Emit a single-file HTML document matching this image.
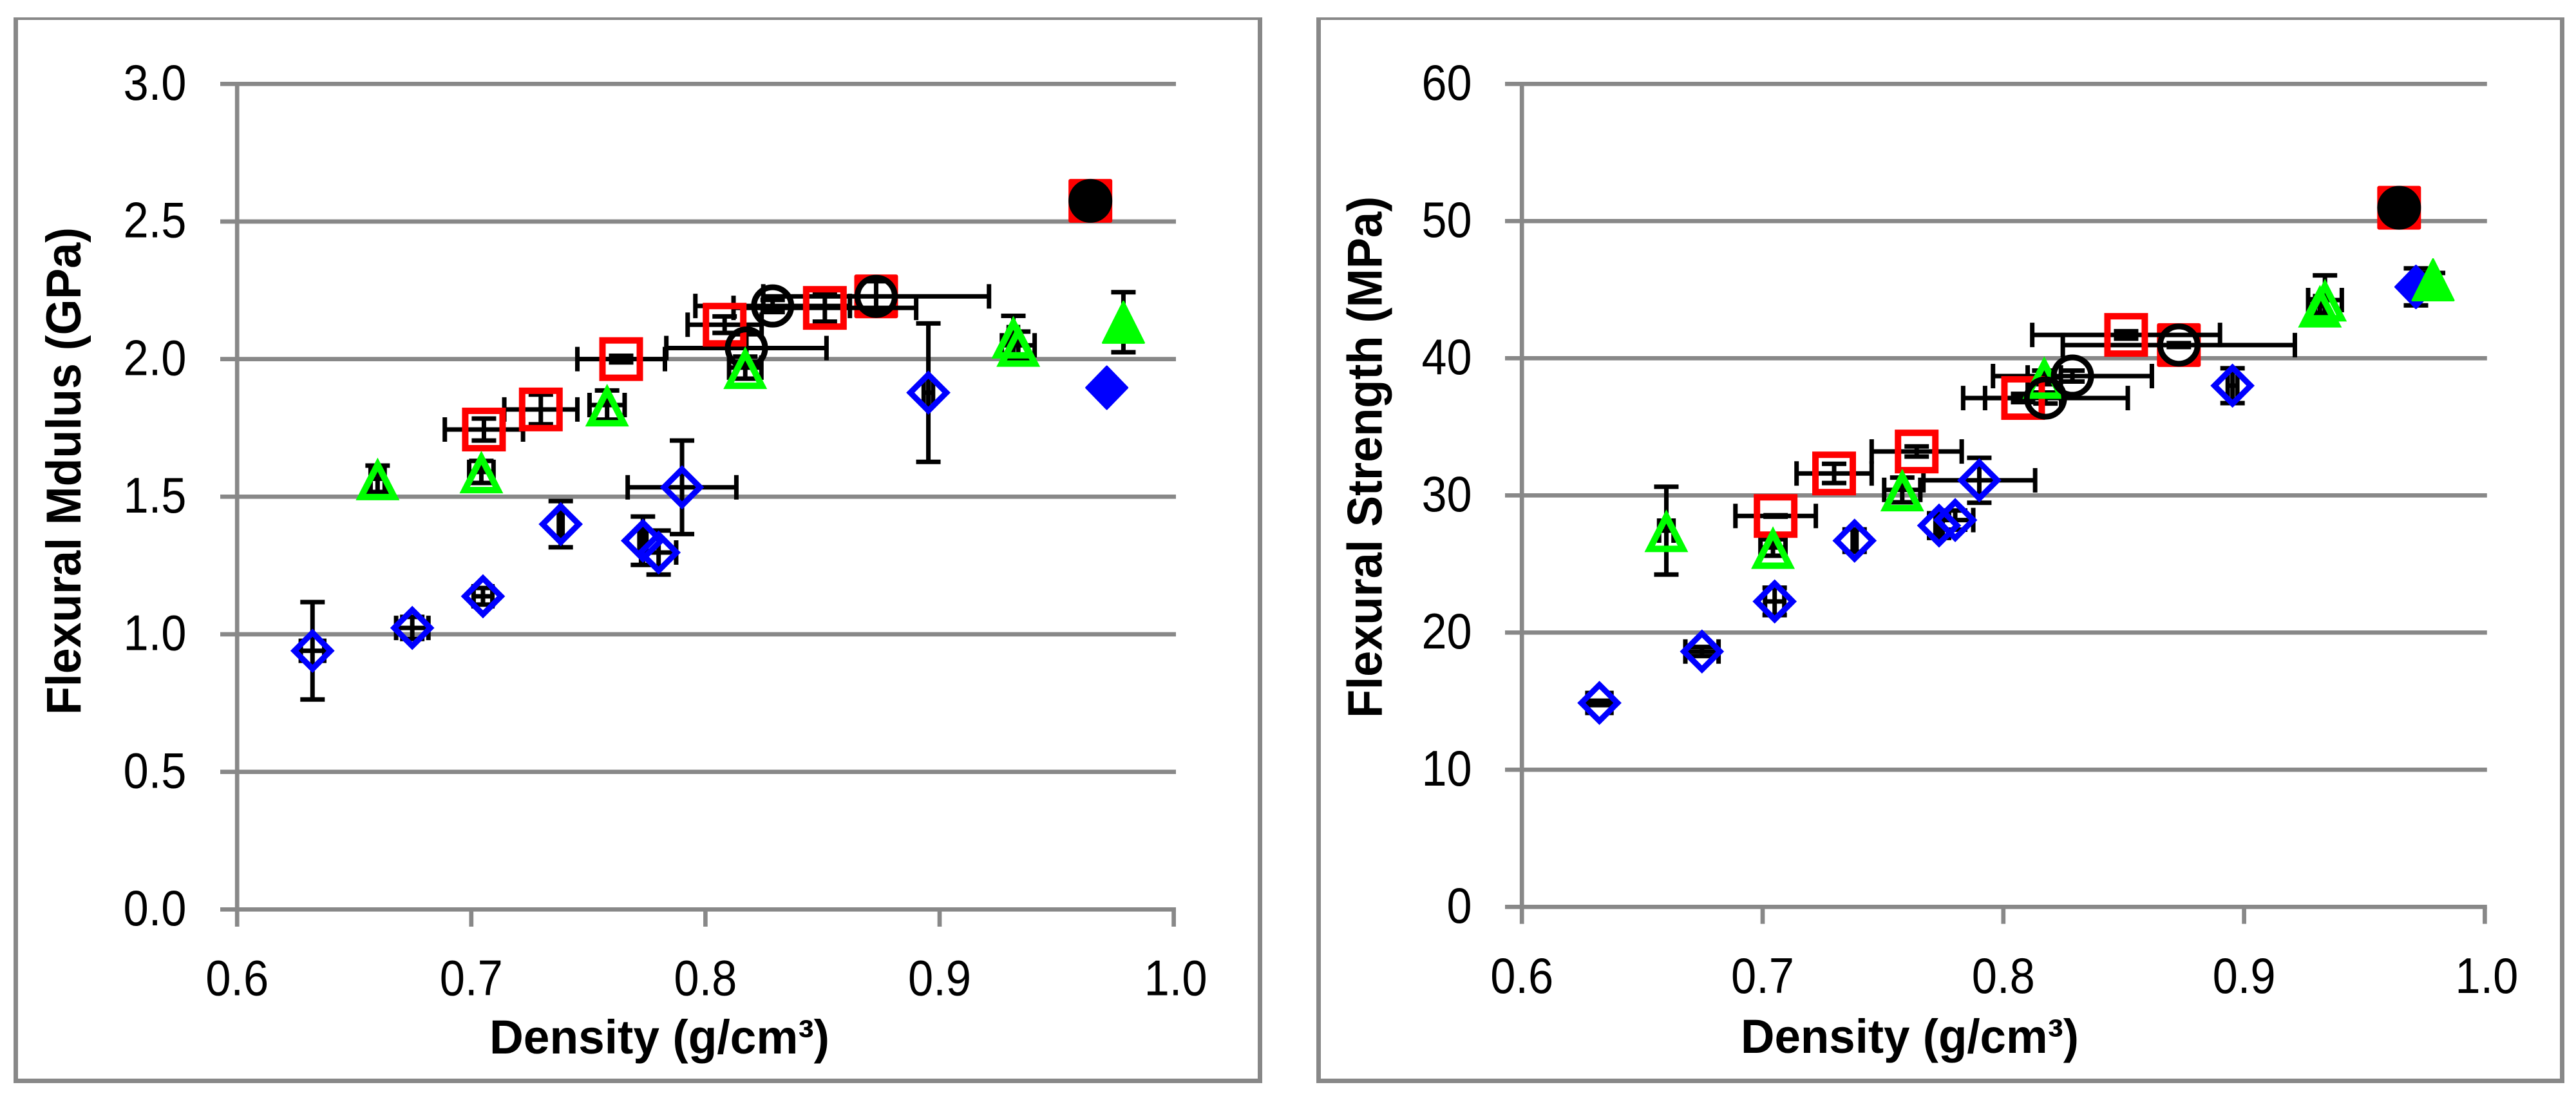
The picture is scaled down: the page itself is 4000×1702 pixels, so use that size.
<!DOCTYPE html>
<html lang="en">
<head>
<meta charset="utf-8">
<title>Flexural modulus and strength versus density</title>
<style>
  html, body { margin: 0; padding: 0; background: #fff; }
  svg { display: block; }
  text { font-family: "Liberation Sans", sans-serif; fill: #000; }
</style>
</head>
<body>
<svg id="figure" xmlns="http://www.w3.org/2000/svg" width="4000" height="1702" viewBox="0 0 4000 1702">
  <rect x="0" y="0" width="4000" height="1702" fill="#fff"/>
  <g id="modulus-panel">
    <path fill="#888888" fill-rule="evenodd" d="M21 27H1960V1682H21Z M28 31V1675H1953V31Z"/>
    <text transform="translate(125 1110) rotate(-90)" font-size="76" font-weight="700" textLength="757" lengthAdjust="spacingAndGlyphs">Flexural Mdulus (GPa)</text>
    <text x="760" y="1636" font-size="74" font-weight="700" textLength="528" lengthAdjust="spacingAndGlyphs">Density (g/cm³)</text>
  </g>
  <g id="strength-panel">
    <path fill="#888888" fill-rule="evenodd" d="M2044 27H3982V1682H2044Z M2051 31V1675H3975V31Z"/>
    <text transform="translate(2145.5 1115) rotate(-90)" font-size="76" font-weight="700" textLength="810" lengthAdjust="spacingAndGlyphs">Flexural Strength (MPa)</text>
    <text x="2703" y="1635" font-size="74" font-weight="700" textLength="525" lengthAdjust="spacingAndGlyphs">Density (g/cm³)</text>
  </g>
</svg>
<script>
// Axis ticks
const densityTicks = [0.6, 0.7, 0.8, 0.9, 1.0];
const densityTickLabels = ['0.6', '0.7', '0.8', '0.9', '1.0'];
const modulusTicks = [0, 0.5, 1, 1.5, 2, 2.5, 3];
const modulusTickLabels = ['0.0', '0.5', '1.0', '1.5', '2.0', '2.5', '3.0'];
const strengthTicks = [0, 10, 20, 30, 40, 50, 60];
const strengthTickLabels = ['0', '10', '20', '30', '40', '50', '60'];

// Open diamonds
const densityDiamond = [0.6322, 0.6748, 0.705, 0.7382, 0.7733, 0.78, 0.79, 0.8952];
const densityErrDiamond = [0.005, 0.0069, 0.004, 0.0008, 0.0015, 0.0075, 0.0232, 0.002];
const modulusDiamond = [0.94, 1.023, 1.138, 1.40, 1.34, 1.297, 1.534, 1.878];
const modulusErrDiamond = [0.177, 0.04, 0.03, 0.084, 0.088, 0.08, 0.17, 0.2515];
const strengthDiamond = [14.87, 18.62, 22.27, 26.7, 27.8, 28.2, 31.1, 38.0];
const strengthErrDiamond = [0.16, 0.33, 1.0, 0.82, 0.9, 0.7, 1.64, 1.27];

// Solid diamond
const densitySolidDiamond = [0.9714];
const densityErrSolidDiamond = [0.0006];
const modulusSolidDiamond = [1.896];
const modulusErrSolidDiamond = [0.01];
const strengthSolidDiamond = [45.2];
const strengthErrSolidDiamond = [1.35];

// Open squares
const densitySquare = [0.7054, 0.7297, 0.764, 0.8082, 0.851];
const densityErrSquare = [0.0167, 0.0156, 0.0187, 0.0158, 0.039];
const modulusSquare = [1.744, 1.817, 2.0, 2.125, 2.186];
const modulusErrSquare = [0.04, 0.054, 0.012, 0.03, 0.05];
const strengthSquare = [28.5, 31.6, 33.2, 37.1, 41.7];
const strengthErrSquare = [0.05, 0.7, 0.37, 0.3, 0.27];

// Open circle on solid square
const densityCircleSquare = [0.8729];
const densityErrCircleSquare = [0.0482];
const modulusCircleSquare = [2.228];
const modulusErrCircleSquare = [0.055];
const strengthCircleSquare = [40.96];
const strengthErrCircleSquare = [0.14];

// Open circles
const densityCircle = [0.8287, 0.8175];
const densityErrCircle = [0.033, 0.0342];
const modulusCircle = [2.193, 2.04];
const modulusErrCircle = [0.022, 0.05];
const strengthCircle = [38.7, 37.1];
const strengthErrCircle = [0.4, 0.4];

// Solid circle on solid square
const densitySolidCircle = [0.9644];
const densityErrSolidCircle = [0];
const modulusSolidCircle = [2.575];
const modulusErrSolidCircle = [0];
const strengthSolidCircle = [50.97];
const strengthErrSolidCircle = [0];

// Open triangles
const densityTriangle = [0.66, 0.7043, 0.758, 0.817, 0.9315, 0.9336];
const densityErrTriangle = [0.003, 0.0052, 0.0075, 0.0069, 0.002, 0.007];
const modulusTriangle = [1.565, 1.59, 1.833, 1.969, 2.08, 2.05];
const modulusErrTriangle = [0.048, 0.04, 0.053, 0.04, 0.077, 0.05];
const strengthTriangle = [27.43, 26.2, 30.4, 38.6, 43.8, 44.24];
const strengthErrTriangle = [3.2, 0.6, 0.9, 0.5, 0.5, 1.8];

// Solid triangle
const densitySolidTriangle = [0.9785];
const densityErrSolidTriangle = [0.001];
const modulusSolidTriangle = [2.134];
const modulusErrSolidTriangle = [0.109];
const strengthSolidTriangle = [45.72];
const strengthErrSolidTriangle = [0.5];

const NS = 'http://www.w3.org/2000/svg';
const GRAY = '#888888';

function shape(parent, tag, props) {
  const el = document.createElementNS(NS, tag);
  for (const key in props) el.setAttribute(key, props[key]);
  parent.appendChild(el);
  return el;
}

function drawTick(parent, xa, ya, xb, yb, name) {
  const el = shape(parent, 'line', { x1: xa, y1: ya, x2: xb, y2: yb, stroke: GRAY, 'stroke-width': 6.7 });
  
  
}

function drawLabel(parent, x, y, label, anchor, name) {
  const el = shape(parent, 'text', { x: x, y: y, 'font-size': 78, 'text-anchor': anchor });
  const digits = label.replace('.', '').length;
  const dots = label.length - digits;
  el.setAttribute('textLength', digits * 39 + dots * 20);
  el.setAttribute('lengthAdjust', 'spacingAndGlyphs');
  el.textContent = label;
  
  
}

function drawError(parent, xa, ya, xb, yb, name) {
  const el = shape(parent, 'line', { x1: xa, y1: ya, x2: xb, y2: yb, stroke: '#000', 'stroke-width': 7 });
  
  
}

function drawErrorBars(parent, sx, sy, xs, xe, ys, ye) {
  xs.forEach(function (d, i) {
    const cx = sx(d), cy = sy(ys[i]);
    const left = sx(d - xe[i]), right = sx(d + xe[i]);
    const top = sy(ys[i] + ye[i]), bottom = sy(ys[i] - ye[i]);
    if (xe[i] > 0) {
      drawError(parent, left, cy, right, cy, 'x-error-bar');
      drawError(parent, left, cy - 19, left, cy + 19, 'x-error-cap');
      drawError(parent, right, cy - 19, right, cy + 19, 'x-error-cap');
    }
    if (ye[i] > 0) {
      drawError(parent, cx, top, cx, bottom, 'y-error-bar');
      drawError(parent, cx - 19, top, cx + 19, top, 'y-error-cap');
      drawError(parent, cx - 19, bottom, cx + 19, bottom, 'y-error-cap');
    }
  });
}

function markerElement(parent, kind, x, y) {
  if (kind === 'open-diamond') {
    return shape(parent, 'polygon', { points: [[x, y - 28], [x + 28, y], [x, y + 28], [x - 28, y]].join(' '), fill: 'none', stroke: '#0000ff', 'stroke-width': 9, 'stroke-miterlimit': 10 });
  }
  if (kind === 'solid-diamond') {
    return shape(parent, 'polygon', { points: [[x, y - 33], [x + 32, y], [x, y + 33], [x - 32, y]].join(' '), fill: '#0000ff', stroke: '#0000ff', 'stroke-width': 3, 'stroke-linejoin': 'round' });
  }
  if (kind === 'open-square') {
    return shape(parent, 'rect', { x: x - 29, y: y - 29, width: 58, height: 58, fill: 'none', stroke: '#ff0000', 'stroke-width': 10 });
  }
  if (kind === 'solid-square') {
    return shape(parent, 'rect', { x: x - 34, y: y - 34, width: 68, height: 68, rx: 3, fill: '#ff0000' });
  }
  if (kind === 'white-circle') {
    return shape(parent, 'circle', { cx: x, cy: y, r: 29, fill: '#fff', stroke: '#000', 'stroke-width': 9 });
  }
  if (kind === 'open-circle') {
    return shape(parent, 'circle', { cx: x, cy: y, r: 29, fill: 'none', stroke: '#000', 'stroke-width': 9 });
  }
  if (kind === 'solid-circle') {
    return shape(parent, 'circle', { cx: x, cy: y, r: 34, fill: '#000' });
  }
  if (kind === 'open-triangle') {
    return shape(parent, 'polygon', { points: [[x, y - 22], [x + 25.8, y + 28.3], [x - 25.8, y + 28.3]].join(' '), fill: 'none', stroke: '#00ff00', 'stroke-width': 10, 'stroke-miterlimit': 10 });
  }
  return shape(parent, 'polygon', { points: [[x, y - 32], [x + 32, y + 32], [x - 32, y + 32]].join(' '), fill: '#00ff00', stroke: '#00ff00', 'stroke-width': 3, 'stroke-linejoin': 'round' });
}

function drawMarkers(parent, sx, sy, xs, ys, kind) {
  xs.forEach(function (d, i) {
    const el = markerElement(parent, kind, sx(d), sy(ys[i]));
    
    
  });
}

function drawChart(cfg, yTicks, yLabels, groups) {
  const root = document.getElementById(cfg.panel);
  const sx = function (d) { return cfg.x0 + (d - 0.6) * cfg.xPerUnit; };
  const sy = function (v) { return cfg.y0 - v * cfg.yPerUnit; };
  const top = sy(yTicks[yTicks.length - 1]);
  const base = sy(0);

  yTicks.forEach(function (t, i) {
    drawTick(root, cfg.gridStart, sy(t), sx(1) + 3.4, sy(t), 'y-gridline');
    drawLabel(root, cfg.yLabelRight, sy(t) + 24.7, yLabels[i], 'end', 'y-tick-label');
  });
  drawTick(root, sx(0.6), top, sx(0.6), cfg.tickBottom, 'y-axis-line');
  densityTicks.forEach(function (t, i) {
    if (i > 0) drawTick(root, sx(t), base, sx(t), cfg.tickBottom, 'x-tick');
    drawLabel(root, sx(t) + (i === 4 ? 3 : 0), cfg.xLabelBase, densityTickLabels[i], 'middle', 'x-tick-label');
  });

  // Markers that sit underneath their error bars
  drawMarkers(root, sx, sy, groups.circleSquare[0], groups.circleSquare[2], 'solid-square');
  drawMarkers(root, sx, sy, groups.circleSquare[0], groups.circleSquare[2], 'white-circle');
  drawMarkers(root, sx, sy, groups.solidCircle[0], groups.solidCircle[2], 'solid-square');

  ['diamond', 'solidDiamond', 'square', 'circleSquare', 'circle', 'solidCircle', 'triangle', 'solidTriangle'].forEach(function (key) {
    const g = groups[key];
    drawErrorBars(root, sx, sy, g[0], g[1], g[2], g[3]);
  });

  drawMarkers(root, sx, sy, groups.diamond[0], groups.diamond[2], 'open-diamond');
  drawMarkers(root, sx, sy, groups.square[0], groups.square[2], 'open-square');
  if (!cfg.circlesOnTop) drawMarkers(root, sx, sy, groups.circle[0], groups.circle[2], 'open-circle');
  drawMarkers(root, sx, sy, groups.solidCircle[0], groups.solidCircle[2], 'solid-circle');
  drawMarkers(root, sx, sy, groups.triangle[0], groups.triangle[2], 'open-triangle');
  if (cfg.circlesOnTop) drawMarkers(root, sx, sy, groups.circle[0], groups.circle[2], 'open-circle');
  drawMarkers(root, sx, sy, groups.solidDiamond[0], groups.solidDiamond[2], 'solid-diamond');
  drawMarkers(root, sx, sy, groups.solidTriangle[0], groups.solidTriangle[2], 'solid-triangle');
}

drawChart(
  { panel: 'modulus-panel', x0: 368.2, xPerUnit: 3636, y0: 1412.3, yPerUnit: 427.33, gridStart: 342, tickBottom: 1439, yLabelRight: 289.5, xLabelBase: 1545.3, circlesOnTop: false },
  modulusTicks, modulusTickLabels,
  {
    diamond: [densityDiamond, densityErrDiamond, modulusDiamond, modulusErrDiamond],
    solidDiamond: [densitySolidDiamond, densityErrSolidDiamond, modulusSolidDiamond, modulusErrSolidDiamond],
    square: [densitySquare, densityErrSquare, modulusSquare, modulusErrSquare],
    circleSquare: [densityCircleSquare, densityErrCircleSquare, modulusCircleSquare, modulusErrCircleSquare],
    circle: [densityCircle, densityErrCircle, modulusCircle, modulusErrCircle],
    solidCircle: [densitySolidCircle, densityErrSolidCircle, modulusSolidCircle, modulusErrSolidCircle],
    triangle: [densityTriangle, densityErrTriangle, modulusTriangle, modulusErrTriangle],
    solidTriangle: [densitySolidTriangle, densityErrSolidTriangle, modulusSolidTriangle, modulusErrSolidTriangle]
  }
);

drawChart(
  { panel: 'strength-panel', x0: 2363.2, xPerUnit: 3738, y0: 1408.3, yPerUnit: 21.3, gridStart: 2337, tickBottom: 1434.7, yLabelRight: 2285.5, xLabelBase: 1542, circlesOnTop: true },
  strengthTicks, strengthTickLabels,
  {
    diamond: [densityDiamond, densityErrDiamond, strengthDiamond, strengthErrDiamond],
    solidDiamond: [densitySolidDiamond, densityErrSolidDiamond, strengthSolidDiamond, strengthErrSolidDiamond],
    square: [densitySquare, densityErrSquare, strengthSquare, strengthErrSquare],
    circleSquare: [densityCircleSquare, densityErrCircleSquare, strengthCircleSquare, strengthErrCircleSquare],
    circle: [densityCircle, densityErrCircle, strengthCircle, strengthErrCircle],
    solidCircle: [densitySolidCircle, densityErrSolidCircle, strengthSolidCircle, strengthErrSolidCircle],
    triangle: [densityTriangle, densityErrTriangle, strengthTriangle, strengthErrTriangle],
    solidTriangle: [densitySolidTriangle, densityErrSolidTriangle, strengthSolidTriangle, strengthErrSolidTriangle]
  }
);
</script>
</body>
</html>
